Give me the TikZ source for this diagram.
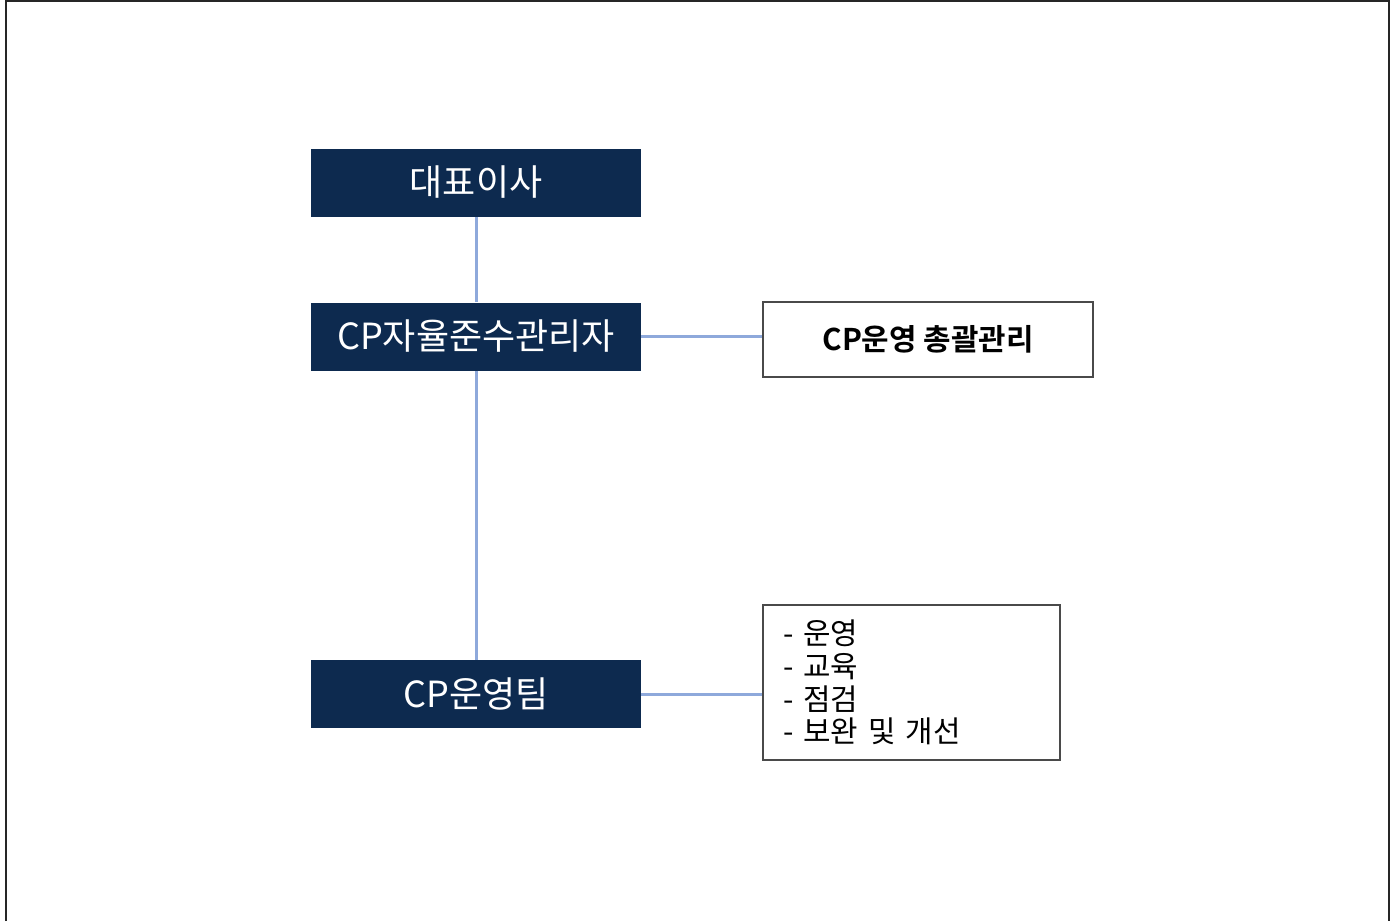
\documentclass[tikz,border=0pt]{standalone}
\usepackage{fontspec}
\setmainfont{Noto Sans CJK KR}[BoldFont={Noto Sans CJK KR Bold}]
\usepackage{tikz}
\usetikzlibrary{positioning}
\definecolor{navy}{HTML}{0D2A4F}
\definecolor{linkblue}{HTML}{8EA9DB}
\definecolor{edgegray}{HTML}{4A4A4A}
\tikzset{
        orgbox/.style={fill=navy, text=white, minimum width=6.6cm, minimum height=1.36cm, inner sep=0pt, font=\fontsize{20.5}{24}\selectfont}, % dark boxes on the left
        notebox/.style={draw=edgegray, line width=0.04cm, fill=white, inner sep=0pt}, % white boxes on the right
        link/.style={draw=linkblue, line width=0.06cm}, % light blue connectors
}
\begin{document}
\begin{tikzpicture}[x=0.02cm,y=-0.02cm]
\useasboundingbox (0,0) rectangle (1397,921);
\draw[line width=0.04cm, black!85] (6,921) -- (6,1) -- (1389,1) -- (1389,921);

\node[orgbox] (ceo) at (476,182.5) {대표이사};
\node[orgbox] (cpo) at (476,336.5) {CP자율준수관리자};
\node[orgbox] (team) at (476,694) {CP운영팀};

\node[notebox, minimum width=6.6cm, minimum height=1.5cm, font=\fontsize{17}{20}\selectfont\bfseries] (duty) at (928,339.5) {CP운영 총괄관리};
\node[notebox, minimum width=5.94cm, minimum height=3.1cm, text width=5.14cm, align=left, font=\fontsize{17}{18.7}\selectfont] (tasks) at (911.5,682.5) {- 운영\\- 교육\\- 점검\\- 보완 및 개선};

\draw[link] (ceo) -- (cpo);
\draw[link] (cpo) -- (team);
\draw[link] (cpo.east) -- (duty.west |- cpo.east);
\draw[link] (team.east) -- (tasks.west |- team.east);

\end{tikzpicture}
\end{document}
